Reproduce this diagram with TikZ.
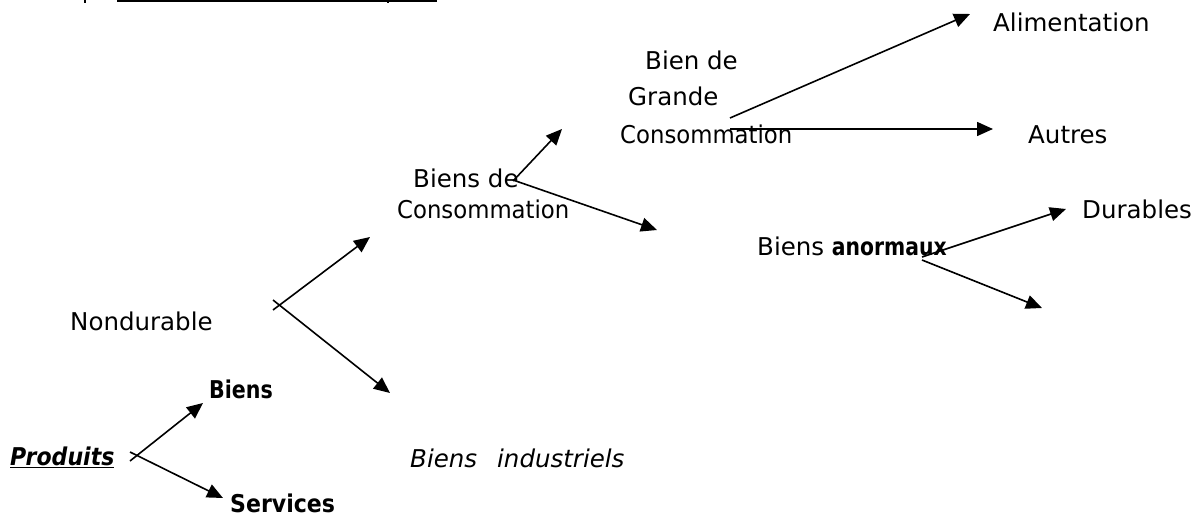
\documentclass[tikz,border=0pt]{standalone}
\usepackage{fontspec}
\usepackage{graphicx}
\setmainfont{DejaVu Sans}
\usetikzlibrary{arrows.meta}
\newcommand{\narrowbf}[2]{\scalebox{#1}[1]{\textbf{#2}}}
\begin{document}
\begin{tikzpicture}[x=1pt,y=-1pt,
  lbl/.style={anchor=base west,inner sep=0pt,font=\fontsize{24.5}{29}\selectfont},
  arr/.style={line width=1.6pt,-{Triangle[length=16pt,width=14pt]}},
  ln/.style={line width=1.5pt}]
\useasboundingbox (0,0) rectangle (1197,516);
% cut-off top line
\coordinate (u1) at (117,1);
\coordinate (u2) at (437,1);
\draw[line width=1.8pt] (u1) -- (u2);
\coordinate (m1a) at (85,0); \coordinate (m1b) at (85,3);
\coordinate (m2a) at (388,0); \coordinate (m2b) at (388,3);
\draw[ln] (m1a) -- (m1b);
\draw[ln] (m2a) -- (m2b);
% labels
\node[lbl] (alim) at (993,32) {Alimentation};
\node[lbl] (bien) at (645,70) {Bien de};
\node[lbl] (grande) at (628,106) {Grande};
\node[lbl] (conso1) at (620,143) {\scalebox{0.93}[1]{Consommation}};
\node[lbl] (autres) at (1028,143) {Autres};
\node[lbl] (biensde) at (413,187) {Biens de};
\node[lbl] (conso2) at (397,218) {\scalebox{0.93}[1]{Consommation}};
\node[lbl] (anorm) at (757,255) {Biens \narrowbf{0.83}{anormaux}};
\node[lbl] (durables) at (1082,218) {Durables};
\node[lbl] (nondur) at (70,330) {Nondurable};
\node[lbl] (biens) at (209,398) {\narrowbf{0.84}{Biens}};
\node[lbl] (produits) at (10,465) {\scalebox{0.9}[1]{\underline{\textbf{\textit{Produits}}}}};
\node[lbl] (indus) at (410,467) {\textit{Biens\hspace{20pt}industriels}};
\node[lbl] (services) at (230,512) {\narrowbf{0.9}{Services}};
% coordinates
\coordinate (g0) at (730,118); \coordinate (g1) at (970,14);
\coordinate (h0) at (730,129); \coordinate (h1) at (993,129);
\coordinate (c0) at (513,181); \coordinate (c1) at (562,129);
\coordinate (c2) at (513,180); \coordinate (c3) at (657,230);
\coordinate (a0) at (922,257); \coordinate (a1) at (1066,209);
\coordinate (a2) at (922,260); \coordinate (a3) at (1042,308);
\coordinate (n0) at (273,310); \coordinate (n1) at (370,237);
\coordinate (n2) at (273,300); \coordinate (n3) at (390,393);
\coordinate (p0) at (130,461); \coordinate (p1) at (203,403);
\coordinate (p2) at (130,452); \coordinate (p3) at (223,498);
% arrows
\draw[arr] (g0) -- (g1);
\draw[arr] (h0) -- (h1);
\draw[arr] (c0) -- (c1);
\draw[arr] (c2) -- (c3);
\draw[arr] (a0) -- (a1);
\draw[arr] (a2) -- (a3);
\draw[arr] (n0) -- (n1);
\draw[arr] (n2) -- (n3);
\draw[arr] (p0) -- (p1);
\draw[arr] (p2) -- (p3);
\end{tikzpicture}
\end{document}
